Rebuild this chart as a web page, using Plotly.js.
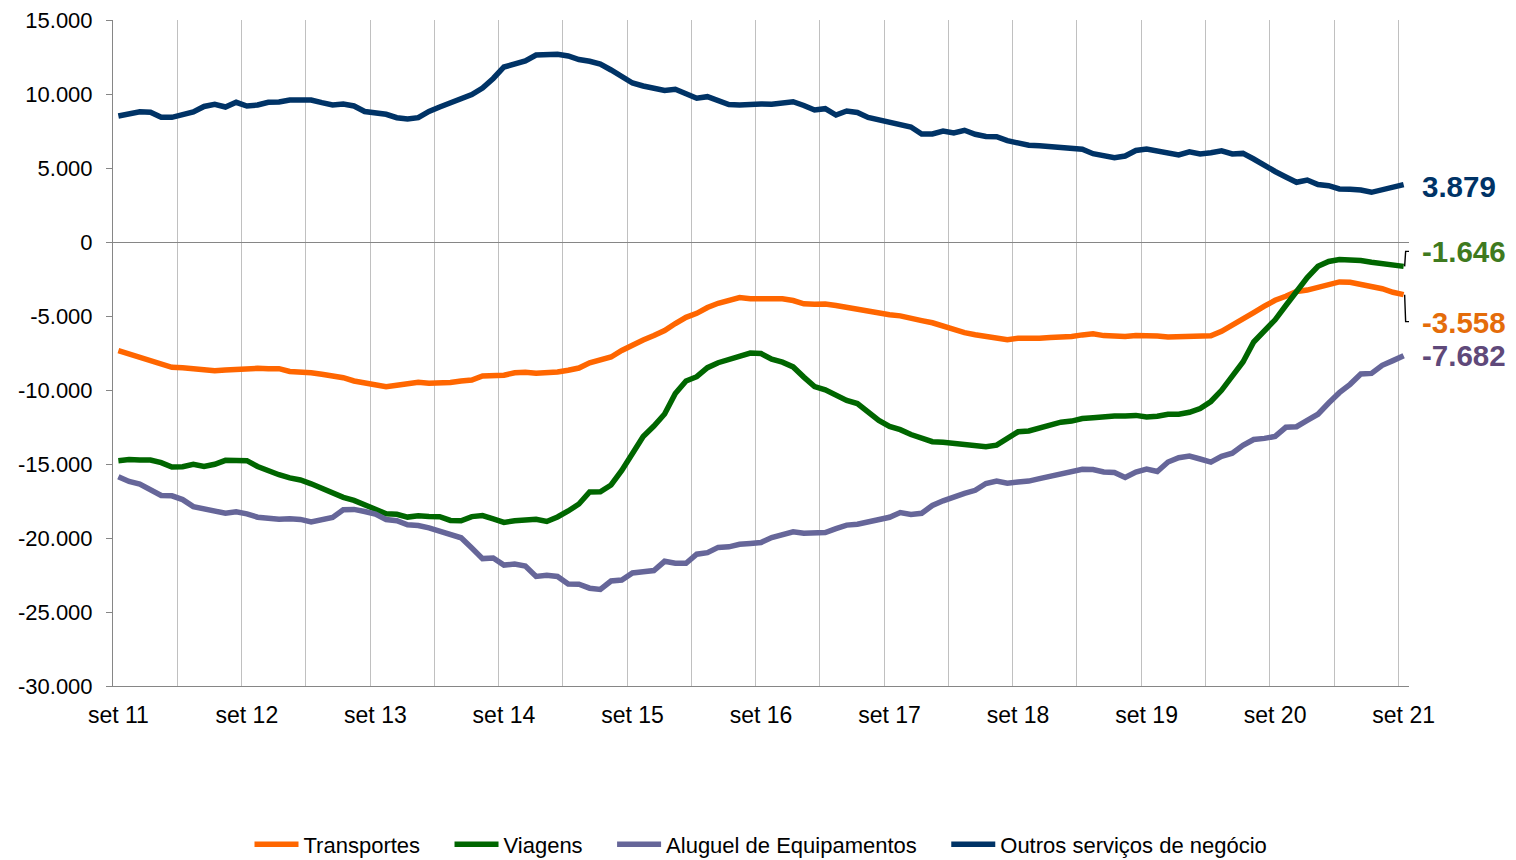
<!DOCTYPE html>
<html>
<head>
<meta charset="utf-8">
<script src="https://cdn.plot.ly/plotly-3.0.1.min.js"></script>
<style>
  html, body { margin: 0; padding: 0; background: #ffffff; }
  #chart { width: 1516px; height: 860px; }
</style>
</head>
<body>
<div id="chart"></div>
<script>
// Series names
const seriesNames = ["Transportes", "Viagens", "Aluguel de Equipamentos", "Outros serviços de negócio"];

// Tick labels (one per year, every 12 months starting set 11)
const tickLabels = ["set 11", "set 12", "set 13", "set 14", "set 15", "set 16", "set 17", "set 18", "set 19", "set 20", "set 21"];

// Y tick values / labels
const yTickValues = [15000, 10000, 5000, 0, -5000, -10000, -15000, -20000, -25000, -30000];
const yTickLabels = ["15.000", "10.000", "5.000", "0", "-5.000", "-10.000", "-15.000", "-20.000", "-25.000", "-30.000"];

// Monthly values, set 11 .. set 21 (121 months)
const transportes = [
  -7345, -7568, -7791, -8075, -8311, -8467, -8494, -8581, -8649, -8696, -8649, -8581,
  -8534, -8534, -8561, -8561, -8750, -8764, -8831, -8933, -9054, -9169, -9392, -9541,
  -9642, -9771, -9676, -9595, -9480, -9541, -9548, -9494, -9392, -9325, -9054, -9000,
  -9000, -8838, -8804, -8865, -8838, -8784, -8669, -8514, -8163, -7973, -7771, -7331,
  -6946, -6622, -6318, -5980, -5507, -5088, -4818, -4426, -4142, -3987, -3750, -3838,
  -3851, -3838, -3838, -3953, -4176, -4210, -4189, -4291, -4433, -4493, -4649, -4777,
  -4919, -4990, -5108, -5311, -5459, -5689, -5919, -6122, -6264, -6392, -6500, -6595,
  -6507, -6527, -6507, -6446, -6439, -6378, -6277, -6203, -6324, -6351, -6392, -6311,
  -6304, -6351, -6412, -6392, -6372, -6372, -6338, -6034, -5642, -5203, -4770, -4338,
  -3939, -3662, -3338, -3250, -3074, -2824, -2696, -2716, -2831, -3034, -3155, -3399,
  -3558
];

const viagens = [
  -14777, -14696, -14730, -14730, -14905, -15203, -15189, -15020, -15169, -15020, -14750, -14771,
  -14777, -15169, -15460, -15723, -15940, -16082, -16338, -16642, -16994, -17257, -17460, -17723,
  -18054, -18365, -18399, -18588, -18494, -18541, -18561, -18811, -18832, -18555, -18487, -18710,
  -18950, -18840, -18757, -18737, -18886, -18582, -18176, -17703, -16892, -16872, -16419, -15439,
  -14291, -13142, -12433, -11622, -10237, -9392, -9101, -8494, -8156, -7939, -7635, -7500,
  -7534, -7919, -8122, -8440, -9129, -9764, -9987, -10304, -10710, -10913, -11527, -12061,
  -12467, -12680, -13007, -13230, -13493, -13534, -13595, -13696, -13811, -13831, -13723, -13277,
  -12824, -12770, -12595, -12399, -12176, -12101, -11926, -11878, -11770, -11757, -11757, -11716,
  -11824, -11777, -11635, -11635, -11507, -11250, -10777, -10020, -9068, -8108, -6757, -6014,
  -5257, -4291, -3277, -2399, -1642, -1318, -1182, -1203, -1250, -1365, -1480, -1547,
  -1646
];

const aluguel = [
  -15858, -16182, -16351, -16723, -17128, -17149, -17405, -17878, -18007, -18176, -18331, -18230,
  -18365, -18595, -18696, -18736, -18696, -18743, -18919, -18736, -18615, -18095, -18068, -18209,
  -18385, -18750, -18831, -19108, -19162, -19318, -19541, -19723, -19986, -20676, -21392, -21350,
  -21830, -21760, -21892, -22601, -22520, -22601, -23108, -23128, -23392, -23473, -22905, -22838,
  -22365, -22277, -22203, -21574, -21709, -21709, -21095, -20993, -20635, -20595, -20426, -20365,
  -20304, -19973, -19764, -19581, -19682, -19642, -19628, -19365, -19128, -19068, -18905, -18804,
  -18601, -18280, -18412, -18331, -17804, -17486, -17196, -16980, -16777, -16318, -16149, -16297,
  -16216, -16155, -15986, -15811, -15622, -15473, -15358, -15372, -15541, -15568, -15912, -15541,
  -15345, -15507, -14865, -14574, -14466, -14662, -14872, -14480, -14270, -13743, -13345, -13270,
  -13135, -12520, -12480, -12047, -11635, -10878, -10182, -9615, -8919, -8878, -8331, -8014,
  -7682
];

const outros = [
  8514, 8683, 8804, 8764, 8426, 8426, 8581, 8784, 9156, 9304, 9122, 9440,
  9190, 9257, 9440, 9460, 9595, 9595, 9595, 9413, 9257, 9325, 9190, 8818,
  8696, 8629, 8399, 8311, 8399, 8818, 9122, 9372, 9662, 9967, 10406, 11050,
  11825, 12027, 12230, 12636, 12703, 12683, 12568, 12331, 12210, 12027, 11622, 11183,
  10744, 10541, 10426, 10237, 10318, 10000, 9710, 9818, 9575, 9291, 9257, 9304,
  9325, 9304, 9392, 9480, 9223, 8919, 9007, 8581, 8852, 8750, 8412, 8244,
  8108, 7990, 7771, 7298, 7298, 7500, 7365, 7548, 7277, 7129, 7115, 6845,
  6710, 6534, 6507, 6453, 6338, 6284, 6264, 5966, 5811, 5703, 5811, 6183,
  6284, 6162, 6041, 5879, 6095, 5946, 6034, 6162, 5946, 5987, 5608, 5135,
  4764, 4392, 4034, 4189, 3885, 3804, 3581, 3561, 3514, 3358, 3561, 3716,
  3879
];

const lineColors = ["#FF6600", "#006600", "#666699", "#003366"];
const labelColors = ["#E46C0A", "#3F7A1F", "#5F497A", "#003366"];
const allSeries = [transportes, viagens, aluguel, outros];

const xIdx = transportes.map((_, i) => i);
const lastIdx = xIdx.length - 1;

// legend entries padded with trailing spaces to widen the gap between items
const pad = "\u00a0\u00a0\u00a0\u00a0";
const traces = allSeries.map((vals, k) => ({
  type: "scatter",
  mode: "lines",
  name: seriesNames[k] + (k < allSeries.length - 1 ? pad : ""),
  x: xIdx,
  y: vals,
  line: { color: lineColors[k], width: 5.5 },
  hoverinfo: "skip"
}));

const fmt = v => {
  const s = Math.abs(v).toString().replace(/\B(?=(\d{3})+(?!\d))/g, ".");
  return (v < 0 ? "-" : "") + s;
};

// end labels: yshift in px per series (display offsets)
const labelShift = [-28, 15, 0, -2];
const annotations = allSeries.map((vals, k) => ({
  x: lastIdx, y: vals[lastIdx], xref: "x", yref: "y",
  text: "<b>" + fmt(vals[lastIdx]) + "</b>",
  showarrow: false, xanchor: "left", yanchor: "middle",
  xshift: 16, yshift: labelShift[k],
  font: { family: "Liberation Sans, Arial, sans-serif", size: 29.5, color: labelColors[k] }
}));

// leader lines for displaced labels
const shapes = [
  { type: "path", xref: "x", yref: "y", xsizemode: "pixel", ysizemode: "pixel",
    xanchor: lastIdx, yanchor: viagens[lastIdx],
    path: "M 1 0 L 2 15 L 11 15", line: { color: "#000000", width: 1.4 } },
  { type: "path", xref: "x", yref: "y", xsizemode: "pixel", ysizemode: "pixel",
    xanchor: lastIdx, yanchor: transportes[lastIdx],
    path: "M 1 0 L 2 -27 L 13 -27", line: { color: "#000000", width: 1.4 } }
];

const layout = {
  width: 1516, height: 860,
  margin: { l: 113, r: 107, t: 20, b: 174, pad: 0, autoexpand: false },
  paper_bgcolor: "#ffffff", plot_bgcolor: "#ffffff",
  font: { family: "Liberation Sans, Arial, sans-serif", size: 22, color: "#000000" },
  showlegend: true,
  legend: {
    orientation: "h", x: 0.5, xanchor: "center",
    yref: "container", y: 0.018, yanchor: "middle",
    font: { size: 22, color: "#000000" }, itemwidth: 44, traceorder: "normal",
    bgcolor: "rgba(0,0,0,0)"
  },
  xaxis: {
    range: [-0.5, lastIdx + 0.5],
    tickmode: "array",
    tickvals: tickLabels.map((_, i) => i * 12),
    ticktext: tickLabels,
    showgrid: false, zeroline: false,
    showline: true, linecolor: "#868686", linewidth: 1,
    ticks: "", ticklabelstandoff: 8,
    tickfont: { size: 23, color: "#000000" },
    minor: { tickmode: "linear", tick0: -0.5, dtick: 6, showgrid: true, gridcolor: "#C0C0C0", gridwidth: 1, ticks: "" },
    fixedrange: true
  },
  yaxis: {
    range: [-30000, 15000],
    tickmode: "array",
    tickvals: yTickValues,
    ticktext: yTickLabels,
    showgrid: false,
    zeroline: true, zerolinecolor: "#868686", zerolinewidth: 1,
    showline: true, linecolor: "#868686", linewidth: 1,
    ticks: "outside", ticklen: 6, tickcolor: "#868686", tickwidth: 1,
    ticklabelstandoff: 9,
    tickfont: { size: 22, color: "#000000" },
    fixedrange: true
  },
  annotations: annotations,
  shapes: shapes
};

Plotly.newPlot("chart", traces, layout, { displayModeBar: false, staticPlot: true });
</script>
</body>
</html>
